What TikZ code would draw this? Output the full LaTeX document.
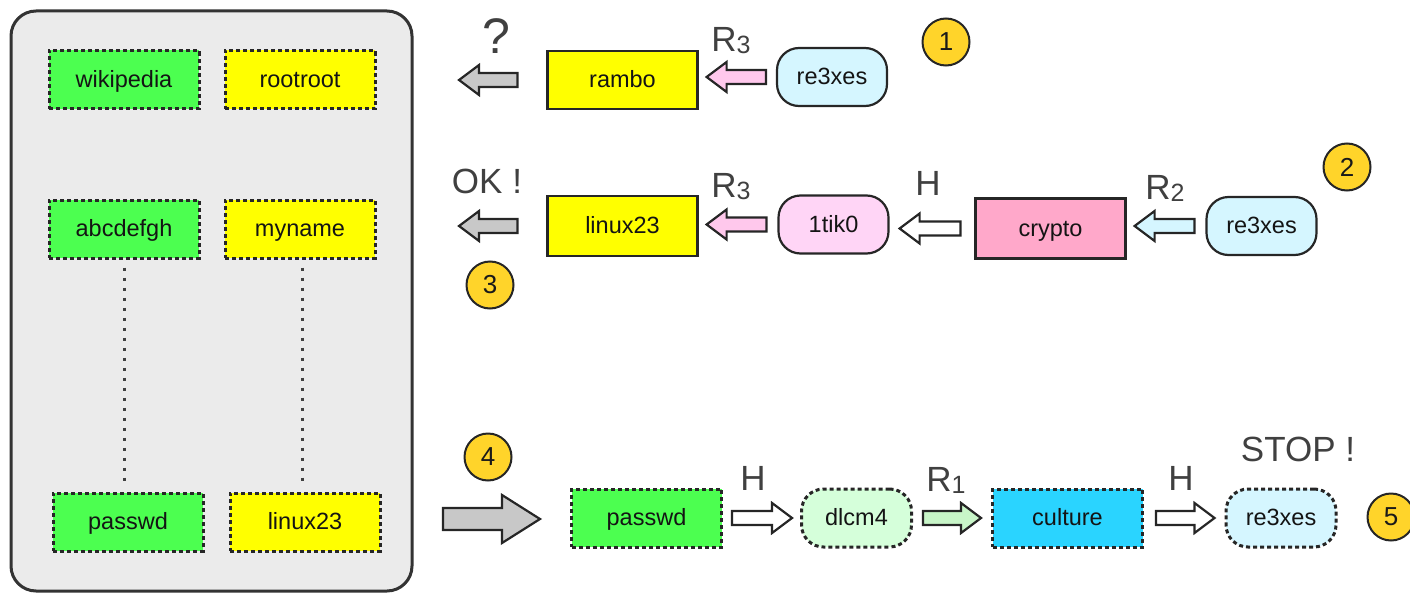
\documentclass[tikz,border=0pt]{standalone}
\usepackage{fontspec}
\setmainfont{Liberation Sans}
\usetikzlibrary{calc}
\definecolor{gfill}{HTML}{4CFF50}
\definecolor{yfill}{HTML}{FFFF00}
\definecolor{lblue}{HTML}{D5F6FF}
\definecolor{lpink}{HTML}{FFD5F6}
\definecolor{cpink}{HTML}{FFA8CA}
\definecolor{cyanf}{HTML}{2AD4FF}
\definecolor{lgreen}{HTML}{D5FFDA}
\definecolor{agreen}{HTML}{C8F5C8}
\definecolor{apink}{HTML}{FFC8EC}
\definecolor{agray}{HTML}{C8C8C8}
\definecolor{panel}{HTML}{EBEBEB}
\definecolor{gold}{HTML}{FFD42A}
\definecolor{labelgray}{HTML}{404040}
\definecolor{edge}{HTML}{262626}

\newcommand\harrow[6]{%
  \draw[barrow,#3] let \p1=(#1), \p2=(#2), \n1={(\x2-\x1)/abs(\x2-\x1)} in
    (\x1,{\y1+#4}) -- ({\x2-\n1*#6},{\y1+#4}) -- ({\x2-\n1*#6},{\y1+#5}) --
    (\x2,\y1) -- ({\x2-\n1*#6},{\y1-#5}) -- ({\x2-\n1*#6},{\y1-#4}) --
    (\x1,{\y1-#4}) -- cycle;}
\newcommand\sarrow[3]{\harrow{#1}{#2}{#3}{7pt}{15pt}{20pt}}
\newcommand\Rsub[1]{R{\fontsize{25}{25}\selectfont\raisebox{-2pt}{#1}}}

\tikzset{
  box/.style={draw=edge, line width=2.2pt, minimum width=150pt, minimum height=58pt,
    inner sep=0pt, font=\fontsize{23.5}{27}\selectfont, text=black!92,
    text height=17pt, text depth=2pt},
  dbox/.style={box, dash pattern=on 4pt off 3pt, line width=3pt},
  rbox/.style={box, rounded corners=22pt, minimum width=110pt},
  lbl/.style={font=\fontsize{35}{40}\selectfont, text=labelgray, anchor=base, inner sep=0pt},
  num/.style={circle, draw=edge, line width=2pt, fill=gold, minimum size=47pt,
    inner sep=0pt, font=\fontsize{26}{30}\selectfont, text=black!90},
  barrow/.style={draw=edge, line width=2.2pt, line join=miter},
  dots/.style={draw=black!75, line width=3pt, dash pattern=on 3pt off 7pt},
}

\begin{document}
\begin{tikzpicture}[x=1pt,y=-1pt]
\useasboundingbox (0,0) rectangle (1410,594);

% left panel
\node[draw=black!80, line width=3pt, fill=panel, rounded corners=25pt,
  minimum width=401pt, minimum height=580pt] (db) at (211.5,301) {};
\node[dbox, fill=gfill] (wiki) at (124,79.5) {wikipedia};
\node[dbox, fill=yfill] (root) at (300,79.5) {rootroot};
\node[dbox, fill=gfill] (abc) at (124,229) {abcdefgh};
\node[dbox, fill=yfill] (myn) at (300,229) {myname};
\node[dbox, fill=gfill] (pw1) at (128,522) {passwd};
\node[dbox, fill=yfill] (lx1) at (305,522) {linux23};
\draw[dots] ([yshift=-8pt]abc.south) -- ([yshift=10pt]abc.south |- pw1.north);
\draw[dots] ([yshift=-8pt,xshift=2pt]myn.south) -- ([yshift=10pt,xshift=2pt]myn.south |- lx1.north);

% row 1
\node[box, fill=yfill] (rambo) at (622.5,80) {rambo};
\node[rbox, fill=lblue] (rx1) at (832,77) {re3xes};
\coordinate (q1) at (459,78);
\sarrow{[xshift=-10pt]rx1.west}{[xshift=8pt]rambo.east}{fill=apink}
\sarrow{[xshift=-29pt]rambo.west}{q1}{fill=agray}
\node[lbl, font=\fontsize{50}{55}\selectfont] (qm) at (496,53) {?};
\node[lbl] (r3a) at (731,52) {\Rsub{3}};
\node[num] (n1) at (946,42) {1};

% row 2
\node[box, fill=yfill, minimum height=60pt] (lx2) at (622.5,226) {linux23};
\node[rbox, fill=lpink] (tik) at (833.5,224.5) {1tik0};
\node[box, fill=cpink, minimum height=60pt] (crypto) at (1050.5,228.5) {crypto};
\node[rbox, fill=lblue] (rx2) at (1261.5,226) {re3xes};
\coordinate (q2) at (459,225);
\sarrow{[xshift=-11pt]tik.west}{[xshift=8pt]lx2.east}{fill=apink}
\sarrow{[xshift=-14pt]crypto.west}{[xshift=10pt]tik.east}{fill=white}
\sarrow{[xshift=-11pt]rx2.west}{[xshift=8pt]crypto.east}{fill=lblue}
\sarrow{[xshift=-29pt]lx2.west}{q2}{fill=agray}
\node[lbl] (ok) at (487,193) {OK !};
\node[lbl] (r3b) at (731,197) {\Rsub{3}};
\node[lbl] (h1) at (928,195) {H};
\node[lbl] (r2) at (1165,199) {\Rsub{2}};
\node[num] (n2) at (1347,167) {2};
\node[num] (n3) at (490,285) {3};

% row 3
\node[dbox, fill=gfill] (pw2) at (646.5,518) {passwd};
\node[rbox, dbox, rounded corners=22pt, minimum width=110pt, fill=lgreen] (dl) at (856.5,518) {dlcm4};
\node[dbox, fill=cyanf] (cul) at (1067.5,518) {culture};
\node[rbox, dbox, rounded corners=22pt, minimum width=110pt, fill=lblue] (rx3) at (1281,518) {re3xes};
\coordinate (q4) at (443,519);
\harrow{q4}{[xshift=-30pt]pw2.west}{fill=agray}{11pt}{24pt}{38pt}
\sarrow{[xshift=9pt]pw2.east}{[xshift=-8pt]dl.west}{fill=white}
\sarrow{[xshift=10pt]dl.east}{[xshift=-10pt]cul.west}{fill=agreen}
\sarrow{[xshift=12pt]cul.east}{[xshift=-10pt]rx3.west}{fill=white}
\node[lbl] (h2) at (753,490) {H};
\node[lbl] (r1) at (946,491) {\Rsub{1}};
\node[lbl] (h3) at (1181,490) {H};
\node[lbl] (stop) at (1298,461) {STOP !};
\node[num] (n4) at (488,457) {4};
\node[num] (n5) at (1391,517) {5};
\end{tikzpicture}
\end{document}
